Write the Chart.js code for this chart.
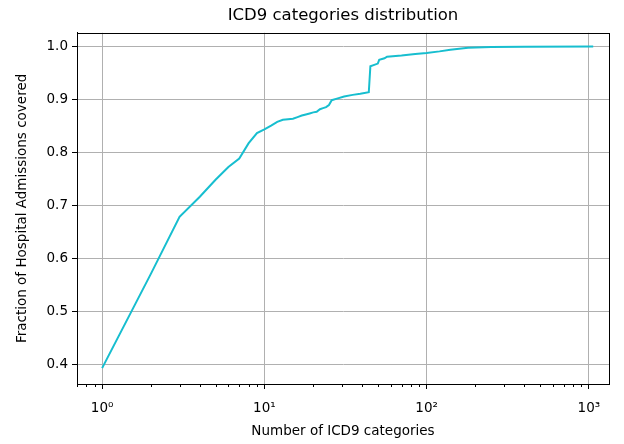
<!DOCTYPE html>
<html>
<head>
<meta charset="utf-8">
<script src="https://cdn.jsdelivr.net/npm/chart.js@4/dist/chart.umd.min.js"></script>
<style>
  html, body { margin: 0; padding: 0; background: #fff; }
  #wrap { width: 624px; height: 444px; }
</style>
</head>
<body>
<div id="wrap"><canvas id="cdfChart" width="624" height="444"></canvas></div>
<script>
// number of ICD9 categories (x) and fraction of admissions covered (y)
const numCategories = [1, 2, 3, 4, 5, 6, 7, 8, 9, 10, 11, 12, 13, 14, 15, 16, 17, 18, 19, 20,
    21, 22, 23, 24, 25, 26, 28, 31, 35, 39, 44, 45, 48, 50, 51, 55, 57, 70, 85, 100,
    120, 140, 180, 250, 400, 1063];
const fractionCovered = [0.394, 0.572, 0.679, 0.717, 0.749, 0.773, 0.789, 0.818, 0.837, 0.844,
    0.851, 0.858, 0.862, 0.863, 0.864, 0.867, 0.870, 0.872, 0.874, 0.876,
    0.877, 0.882, 0.884, 0.886, 0.890, 0.899, 0.902, 0.906, 0.909, 0.911, 0.914, 0.963, 0.966, 0.968, 0.975, 0.978, 0.981, 0.983, 0.986, 0.988,
    0.991, 0.994, 0.998, 0.999, 0.9995, 1.0];

const xMajorTicks = [1, 10, 100, 1000];
const xTickLabels = ["10\u2070", "10\u00b9", "10\u00b2", "10\u00b3"];
const yTicks = [0.4, 0.5, 0.6, 0.7, 0.8, 0.9, 1.0];

const FONT = "'DejaVu Sans', sans-serif";

// frame + minor log ticks, matplotlib style
const framePlugin = {
    id: "frame",
    afterDatasetsDraw(chart) {
        const { ctx, chartArea: a, scales } = chart;
        const xs = scales.x;
        ctx.save();
        ctx.strokeStyle = "#000";
        ctx.lineWidth = 1;
        // minor ticks
        for (let dec = 0.1; dec <= 1000; dec *= 10) {
            for (let m = 2; m <= 9; m++) {
                const v = dec * m;
                if (v < xs.min || v > xs.max) continue;
                const px = Math.round(xs.getPixelForValue(v)) + 0.5;
                ctx.beginPath();
                ctx.moveTo(px, a.bottom);
                ctx.lineTo(px, a.bottom + 3);
                ctx.stroke();
            }
        }
        ctx.strokeRect(Math.round(a.left) + 0.5, Math.round(a.top) + 0.5,
            Math.round(a.right - a.left), Math.round(a.bottom - a.top));
        ctx.restore();
    }
};

new Chart(document.getElementById("cdfChart").getContext("2d"), {
    type: "line",
    data: {
        datasets: [{
            data: numCategories.map((n, i) => ({ x: n, y: fractionCovered[i] })),
            borderColor: "#17becf",
            borderWidth: 2,
            pointRadius: 0,
            tension: 0,
            fill: false
        }]
    },
    options: {
        responsive: false,
        animation: false,
        layout: { padding: { left: 0, right: 15, top: 0, bottom: 0 } },
        plugins: {
            legend: { display: false },
            tooltip: { enabled: false },
            title: {
                display: true,
                fullSize: false,
                text: "ICD9 categories distribution",
                color: "#000",
                font: { family: FONT, size: 16.5, weight: "normal" },
                padding: { top: 6, bottom: 7 }
            }
        },
        scales: {
            x: {
                type: "logarithmic",
                min: 0.72,
                max: 1330,
                afterBuildTicks: (s) => { s.ticks = xMajorTicks.map(v => ({ value: v })); },
                afterFit: (s) => { s.height = 60; },
                ticks: {
                    color: "#000",
                    font: { family: FONT, size: 13.5 },
                    padding: 11,
                    autoSkip: false,
                    maxRotation: 0,
                    callback: (v) => xTickLabels[xMajorTicks.indexOf(v)]
                },
                grid: { color: "#b0b0b0", lineWidth: 1, tickColor: "#000", tickLength: 5 },
                border: { color: "#000" },
                title: {
                    display: true,
                    text: "Number of ICD9 categories",
                    color: "#000",
                    font: { family: FONT, size: 13.5 },
                    padding: { top: 2, bottom: 4 }
                }
            },
            y: {
                min: 0.364,
                max: 1.026,
                afterBuildTicks: (s) => { s.ticks = yTicks.map(v => ({ value: v })); },
                afterFit: (s) => { s.width = 77; },
                ticks: {
                    color: "#000",
                    font: { family: FONT, size: 13.5 },
                    padding: 4,
                    callback: (v) => v.toFixed(1)
                },
                grid: { color: "#b0b0b0", lineWidth: 1, tickColor: "#000", tickLength: 5 },
                border: { color: "#000" },
                title: {
                    display: true,
                    text: "Fraction of Hospital Admissions covered",
                    color: "#000",
                    font: { family: FONT, size: 13.5 },
                    padding: { top: 14, bottom: 0 }
                }
            }
        }
    },
    plugins: [framePlugin]
});
</script>
</body>
</html>
